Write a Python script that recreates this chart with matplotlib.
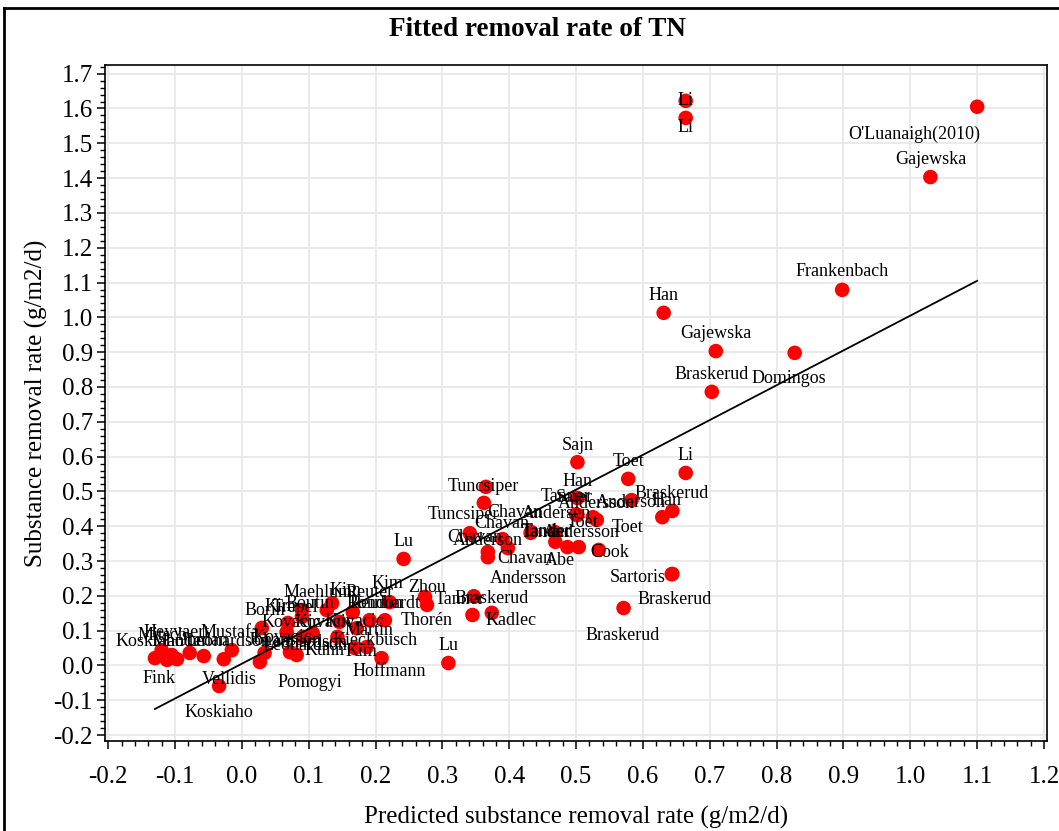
import matplotlib
matplotlib.use("Agg")
import matplotlib.pyplot as plt
from matplotlib.lines import Line2D
from matplotlib.ticker import MultipleLocator, FormatStrFormatter
import numpy as np

# predicted vs observed TN removal rate (g/m2/d), one entry per study
predicted = [
    1.100, 1.030, 0.664, 0.664, 0.898, 0.631, 0.709, 0.827, 0.703,
    0.502, 0.578, 0.664, 0.502, 0.644, 0.629, 0.583, 0.643, 0.644, 0.571,
    0.365, 0.362, 0.341, 0.390, 0.398, 0.368, 0.368, 0.433, 0.432, 0.468,
    0.469, 0.487, 0.504, 0.502, 0.500, 0.525, 0.526, 0.531, 0.534,
    0.242, 0.274, 0.277, 0.345, 0.347, 0.374, 0.309, 0.209,
    0.221, 0.214, 0.191, 0.166, 0.135, 0.127, 0.090, 0.030, 0.069,
    0.090, 0.146, 0.067, 0.106, 0.072, 0.091, 0.187, 0.172, 0.143,
    0.169, 0.082, 0.034, 0.027,
    -0.130, -0.120, -0.112, -0.105, -0.097, -0.078, -0.057, -0.027,
    -0.015, -0.034,
]
observed = [
    1.605, 1.403, 1.622, 1.573, 1.079, 1.013, 0.903, 0.898, 0.786,
    0.584, 0.536, 0.553, 0.481, 0.444, 0.426, 0.475, 0.262, 0.263, 0.165,
    0.513, 0.467, 0.380, 0.363, 0.337, 0.326, 0.311, 0.383, 0.381, 0.383,
    0.355, 0.340, 0.340, 0.432, 0.434, 0.426, 0.424, 0.418, 0.332,
    0.306, 0.197, 0.174, 0.145, 0.199, 0.151, 0.007, 0.021,
    0.182, 0.130, 0.130, 0.153, 0.179, 0.159, 0.140, 0.108, 0.122,
    0.159, 0.125, 0.096, 0.093, 0.038, 0.082, 0.053, 0.107, 0.082,
    0.050, 0.030, 0.036, 0.010,
    0.021, 0.044, 0.016, 0.030, 0.018, 0.036, 0.027, 0.018,
    0.044, -0.059,
]
study = [
    "O'Luanaigh(2010)", "Gajewska", "Li", "Li", "Frankenbach", "Han",
    "Gajewska", "Domingos", "Braskerud",
    "Sajn", "Toet", "Li", "Han", "Braskerud", "Han", "Toet", "Sartoris",
    "Braskerud", "Braskerud",
    "Tuncsiper", "Tuncsiper", "Chavan", "Chavan", "Chavan", "Anderson",
    "Andersson", "Chavan", "Tander", "Andersen",
    "Tander", "Abe", "Andersson", "Saier", "Tanner", "Andersson",
    "Anderson", "Toet", "Cook",
    "Lu", "Zhou", "Thorén", "Tanner", "Braskerud", "Kadlec", "Lu",
    "Hoffmann",
    "Kim", "Reinhardt", "Rondon", "Reuter", "Kim", "Maehlum", "Boutin",
    "Borin", "Kim",
    "Trepel", "Kovacic", "Kovacic", "Kovacic", "Kovacic", "Leonardson",
    "Martin", "Kieckbusch", "Kuhn",
    "Kim", "Pomogyi", "Johansson", "Leonardson",
    "Fink", "Koskiaho", "Mitsch", "Heyvaert", "Mander", "Jordan",
    "Mustafa", "Vellidis",
    "Leonardson", "Koskiaho",
]
# label placement relative to the dot, in screen pixels (right, down)
label_dx = [
    -63, 0, 0, 0, 0, 0, 0, -6, 0,
    0, 0, 0, 0, -1, 4, -4, -34, 2, -1,
    -2, -20, 5, -1, 17, 0, 40, -17, 15, 2,
    -9, -8, 3, -3, -10, 4, 37, -14, 11,
    0, 2, 0, -13, 18, 19, 0, 8,
    -2, 0, 5, 17, 13, -9, 8, 3, -8,
    -7, 15, 5, 12, -8, 2, 2, 18, -13,
    7, 13, 20, 45,
    4, -12, -5, 5, 3, 15, 26, 5,
    -4, 0,
]
label_dy = [
    28, -18, 0, 10, -18, -17, -18, 26, -17,
    -17, -17, -17, -17, -17, -17, 27, 3, 26, 27,
    0, 12, 4, -16, 10, -11, 21, -20, 0, -19,
    -10, 13, -15, -18, -18, -14, -15, 3, 3,
    -17, -9, 16, -15, 2, 8, -18, 13,
    -19, -17, -17, -20, -13, -18, -13, -17, -16,
    -3, 0, -10, -11, -15, 6, -17, 12, 14,
    3, 27, -12, -16,
    20, -9, -24, -23, -18, -12, -24, 20,
    -9, 26,
]
# fitted line: observed = intercept + slope * predicted
fit_intercept = 0.005
fit_slope = 1.0

serif = ["Liberation Serif", "DejaVu Serif"]
plt.rcParams["font.family"] = serif

fig = plt.figure(figsize=(10.59, 8.31), dpi=100)
ax = fig.add_axes([0.0996, 0.1083, 0.8891, 0.8135])

ax.scatter(predicted, observed, s=110, color="#ff0000", edgecolors="none", zorder=3)

xfit = np.array([min(predicted), max(predicted)])
ax.plot(xfit, fit_intercept + fit_slope * xfit, color="black", lw=1.3, zorder=4)

for xv, yv, name, dx, dy in zip(predicted, observed, study, label_dx, label_dy):
    ax.annotate(name, (xv, yv), xytext=(dx, -dy), textcoords="offset pixels",
                ha="center", va="center", fontsize=13, color="black", zorder=5)

ax.set_xlim(-0.204, 1.2045)
ax.set_ylim(-0.217, 1.725)
ax.xaxis.set_major_locator(MultipleLocator(0.1))
ax.xaxis.set_minor_locator(MultipleLocator(0.02))
ax.yaxis.set_major_locator(MultipleLocator(0.1))
ax.yaxis.set_minor_locator(MultipleLocator(0.02))
ax.xaxis.set_major_formatter(FormatStrFormatter("%.1f"))
ax.yaxis.set_major_formatter(FormatStrFormatter("%.1f"))
ax.tick_params(which="major", direction="out", length=6, width=1.1, labelsize=18)
ax.tick_params(which="minor", direction="out", length=3.5, width=1.0)
ax.tick_params(axis="x", which="major", pad=12)
ax.tick_params(axis="y", which="major", pad=3)

ax.grid(True, which="major", color="#e8e8e8", lw=1.3, zorder=0)
ax.set_axisbelow(True)
for sp in ax.spines.values():
    sp.set_linewidth(1.2)

ax.set_xlabel("Predicted substance removal rate (g/m2/d)", fontsize=18, labelpad=13)
ax.set_ylabel("Substance removal rate (g/m2/d)", fontsize=18, labelpad=4)
fig.text(0.508, 0.965, "Fitted removal rate of TN", ha="center", va="center",
         fontsize=19.5, fontweight="bold")

# outer frame (only left and top edges are visible in the crop)
fig.add_artist(Line2D([0.0042, 0.0042], [0.0, 0.9904], color="black", lw=2.0,
                      transform=fig.transFigure))
fig.add_artist(Line2D([0.0042, 1.0], [0.9904, 0.9904], color="black", lw=2.0,
                      transform=fig.transFigure))

fig.savefig("out.png", dpi=100)
